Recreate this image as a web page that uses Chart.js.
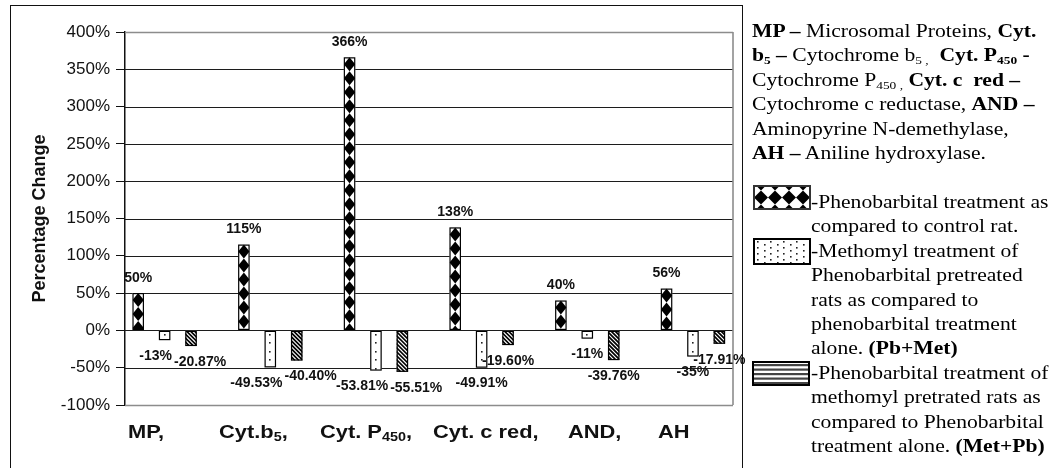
<!DOCTYPE html>
<html lang="en">
<head>
<meta charset="UTF-8">
<title>Percentage Change</title>
<script src="https://cdn.jsdelivr.net/npm/chart.js@4.4.0/dist/chart.umd.min.js"></script>
<style>
  body { margin: 0; background: #fff; }
  #page { position: relative; width: 1052px; height: 468px; overflow: hidden; background: #fff; }
  #frame { position: absolute; left: 10px; top: 5px; width: 731px; height: 480px; border: 1.5px solid #111; border-bottom: none; }
  #wrap { position: absolute; left: 0; top: 0; width: 1052px; height: 468px; }
  .xlab { position: absolute; top: 422px; font: bold 19px "Liberation Sans", Arial, sans-serif; line-height: 19px;
          color: #111; white-space: nowrap; transform: scaleX(1.15); transform-origin: left top; }
  .xlab sub { font-size: 0.66em; vertical-align: -0.2em; line-height: 0; }
  .notes { position: absolute; font: 18px "Liberation Serif", "Times New Roman", serif; line-height: 24.4px;
           color: #000; white-space: nowrap; transform: scaleX(1.2); transform-origin: left top; }
  .notes sub { font-size: 0.62em; vertical-align: -0.25em; line-height: 0; }
  .swatch { position: absolute; }
</style>
</head>
<body>
<div id="page">
  <div id="frame"></div>
  <div id="wrap"><canvas id="chart"></canvas></div>

  <!-- category names, typed as a line of text under the plot like in the original -->
  <span class="xlab" style="left:128px">MP,</span>
  <span class="xlab" style="left:219px">Cyt.b<sub>5</sub>,</span>
  <span class="xlab" style="left:320px">Cyt. P<sub>450</sub>,</span>
  <span class="xlab" style="left:433px">Cyt. c red,</span>
  <span class="xlab" style="left:568px">AND,</span>
  <span class="xlab" style="left:658px">AH</span>

  <!-- abbreviations -->
  <div class="notes" style="left:752px; top:19px">
    <b>MP –</b> Microsomal Proteins, <b>Cyt.</b><br>
    <b>b<sub>5</sub> –</b> Cytochrome b<sub>5 ,</sub>&nbsp; <b>Cyt. P<sub>450</sub> -</b><br>
    Cytochrome P<sub>450 ,</sub> <b>Cyt. c&nbsp; red –</b><br>
    Cytochrome c reductase, <b>AND –</b><br>
    Aminopyrine N-demethylase,<br>
    <b>AH –</b> Aniline hydroxylase.
  </div>

  <!-- legend -->
  <canvas class="swatch" id="sw0" width="58" height="25" style="left:753px; top:185px"></canvas>
  <canvas class="swatch" id="sw1" width="58" height="27" style="left:753px; top:238px"></canvas>
  <canvas class="swatch" id="sw2" width="58" height="25" style="left:752px; top:361px"></canvas>
  <div class="notes" style="left:811px; top:190px">
    -Phenobarbital treatment as<br>
    compared to control rat.<br>
    -Methomyl treatment of<br>
    Phenobarbital pretreated<br>
    rats as compared to<br>
    phenobarbital treatment<br>
    alone. <b>(Pb+Met)</b><br>
    -Phenobarbital treatment of<br>
    methomyl pretrated rats as<br>
    compared to Phenobarbital<br>
    treatment alone. <b>(Met+Pb)</b>
  </div>
</div>

<script>
// data (percentage change)
const categories = ['MP', 'Cyt.b₅', 'Cyt. P₄₅₀', 'Cyt. c red', 'AND', 'AH'];
const phenobarbital = [50, 115, 366, 138, 40, 56];
const pbMet = [-13, -49.53, -53.81, -49.91, -11, -35];
const metPb = [-20.87, -40.40, -55.51, -19.60, -39.76, -17.91];
// the original sheet had an empty fourth series, it still takes a slot in each group
const emptySeries = [null, null, null, null, null, null];

const yMin = -100, yMax = 400, yStep = 50;

const PLOT_RIGHT = 733; // visible right edge of the plot box
const LABEL_FONT = 'bold 14px "Liberation Sans", Arial, sans-serif';

// ---- fill patterns ----
function drawDiamonds(ctx, left, top, w, h, dw, dh, startY) {
    ctx.fillStyle = '#000';
    for (let yy = startY; yy < top + h; yy += dh) {
        for (let xx = left; xx < left + w - 0.5; xx += dw) {
            const cx = xx + dw / 2;
            ctx.beginPath();
            ctx.moveTo(cx, yy);
            ctx.lineTo(xx + dw, yy + dh / 2);
            ctx.lineTo(cx, yy + dh);
            ctx.lineTo(xx, yy + dh / 2);
            ctx.closePath();
            ctx.fill();
        }
    }
}

function drawDots(ctx, left, top, w, h, sx, sy) {
    ctx.fillStyle = '#222';
    let col = 0;
    for (let xx = left + sx / 2; xx < left + w; xx += sx, col++) {
        for (let yy = top + 4 + (col % 2) * sy / 2; yy < top + h - 1; yy += sy) {
            ctx.fillRect(Math.round(xx) - 1, Math.round(yy) - 1, 1.6, 1.6);
        }
    }
}

function drawDiagonal(ctx, left, top, w, h) {
    ctx.strokeStyle = '#000';
    ctx.lineWidth = 1.7;
    for (let t = -h; t < w + h; t += 4) {
        ctx.beginPath();
        ctx.moveTo(left + t, top);
        ctx.lineTo(left + t + h, top + h);
        ctx.stroke();
    }
}

function drawHorizontal(ctx, left, top, w, h) {
    ctx.fillStyle = '#444';
    for (let yy = top + 3; yy < top + h - 2; yy += 4.5) {
        ctx.fillRect(left, yy, w, 2.2);
    }
}

function fmt(v) {
    return (Number.isInteger(v) ? v : v.toFixed(2)) + '%';
}

// horizontal grid + grey box, stopped at the visible plot edge
const plotFrame = {
    id: 'plotFrame',
    beforeDatasetsDraw(chart) {
        const { ctx, chartArea, scales: { y } } = chart;
        ctx.save();
        y.ticks.forEach(t => {
            const py = Math.round(y.getPixelForValue(t.value)) + 0.5;
            const edge = t.value === yMax || t.value === yMin;
            ctx.strokeStyle = edge ? '#8c8c8c' : '#1c1c1c';
            ctx.lineWidth = edge ? 1.6 : 1;
            ctx.beginPath();
            ctx.moveTo(chartArea.left, py);
            ctx.lineTo(PLOT_RIGHT, py);
            ctx.stroke();
        });
        ctx.strokeStyle = '#8c8c8c';
        ctx.lineWidth = 1.6;
        ctx.beginPath();
        ctx.moveTo(PLOT_RIGHT, y.getPixelForValue(yMax));
        ctx.lineTo(PLOT_RIGHT, y.getPixelForValue(yMin));
        ctx.stroke();
        ctx.restore();
    }
};

// patterns inside the bars and the value labels
const barDecor = {
    id: 'barDecor',
    afterDatasetsDraw(chart) {
        const ctx = chart.ctx;
        const labels = [];
        [0, 1, 2].forEach(di => {
            const meta = chart.getDatasetMeta(di);
            const values = chart.data.datasets[di].data;
            meta.data.forEach((bar, j) => {
                const { x, y, base, width } = bar.getProps(['x', 'y', 'base', 'width'], true);
                const left = x - width / 2;
                const top = Math.min(y, base);
                const h = Math.abs(base - y);
                ctx.save();
                ctx.beginPath();
                ctx.rect(left, top, width, h);
                ctx.clip();
                if (di === 0) drawDiamonds(ctx, left, top, width, h, width, 14, top);
                if (di === 1) drawDots(ctx, left, top, width, h, width, 8.5);
                if (di === 2) drawDiagonal(ctx, left, top, width, h);
                ctx.restore();
                ctx.save();
                ctx.strokeStyle = '#000';
                ctx.lineWidth = 1.2;
                ctx.strokeRect(left + 0.5, top + 0.5, width - 1, h - 1);
                ctx.restore();

                const v = values[j];
                labels.push({ di, j, text: fmt(v), x, y: v >= 0 ? y - 15 : y + 16 });
            });
        });

        ctx.save();
        ctx.font = LABEL_FONT;
        labels.forEach(l => { l.w = ctx.measureText(l.text).width; });
        // the two negative labels of one group: push them apart when they collide
        categories.forEach((c, j) => {
            const a = labels.find(l => l.di === 1 && l.j === j);
            const b = labels.find(l => l.di === 2 && l.j === j);
            if (Math.abs(a.y - b.y) > 12) return;
            const overlap = (a.x + a.w / 2) - (b.x - b.w / 2) + 2;
            if (overlap > 0) { a.x -= overlap / 2; b.x += overlap / 2; }
        });
        ctx.fillStyle = '#111';
        ctx.textAlign = 'center';
        ctx.textBaseline = 'middle';
        labels.forEach(l => ctx.fillText(l.text, l.x, l.y));
        ctx.restore();
    }
};

new Chart(document.getElementById('chart'), {
    type: 'bar',
    data: {
        labels: categories,
        datasets: [
            { label: 'Phenobarbital', data: phenobarbital },
            { label: 'Pb+Met', data: pbMet },
            { label: 'Met+Pb', data: metPb },
            { label: '', data: emptySeries }
        ].map(d => Object.assign(d, {
            backgroundColor: '#fff',
            borderWidth: 0,
            categoryPercentage: 1.0,
            barPercentage: 0.43
        }))
    },
    options: {
        responsive: true,
        maintainAspectRatio: false,
        animation: false,
        layout: { padding: { left: 0, right: 293, top: 32, bottom: 63 } },
        plugins: {
            legend: { display: false },
            tooltip: { enabled: false }
        },
        scales: {
            x: { display: false },
            y: {
                min: yMin,
                max: yMax,
                afterFit(scale) { scale.width = 125; },
                ticks: {
                    stepSize: yStep,
                    padding: 6,
                    color: '#111',
                    font: { family: '"Liberation Sans", Arial, sans-serif', size: 17 },
                    callback: v => v + '%'
                },
                grid: { drawOnChartArea: false, drawTicks: true, tickLength: 9, color: '#111' },
                border: { display: true, color: '#111', width: 1.5 },
                title: {
                    display: true,
                    text: 'Percentage Change',
                    color: '#111',
                    font: { family: '"Liberation Sans", Arial, sans-serif', size: 18, weight: 'bold' },
                    padding: { top: 29, bottom: 0 }
                }
            }
        }
    },
    plugins: [plotFrame, barDecor]
});

// legend swatches
(function () {
    const s0 = document.getElementById('sw0').getContext('2d');
    s0.fillStyle = '#fff'; s0.fillRect(0, 0, 58, 25);
    drawDiamonds(s0, 1, 0, 56, 25, 14, 14, 12.5 - 7 - 14);
    s0.strokeStyle = '#333'; s0.lineWidth = 2; s0.strokeRect(1, 1, 56, 23);

    const s1 = document.getElementById('sw1').getContext('2d');
    s1.fillStyle = '#fff'; s1.fillRect(0, 0, 58, 27);
    drawDots(s1, 2, 0, 54, 27, 6.5, 6);
    s1.strokeStyle = '#000'; s1.lineWidth = 2; s1.strokeRect(1, 1, 56, 25);

    const s2 = document.getElementById('sw2').getContext('2d');
    s2.fillStyle = '#fff'; s2.fillRect(0, 0, 58, 25);
    drawHorizontal(s2, 0, 0, 58, 25);
    s2.strokeStyle = '#000'; s2.lineWidth = 2; s2.strokeRect(1, 1, 56, 23);
})();
</script>
</body>
</html>
